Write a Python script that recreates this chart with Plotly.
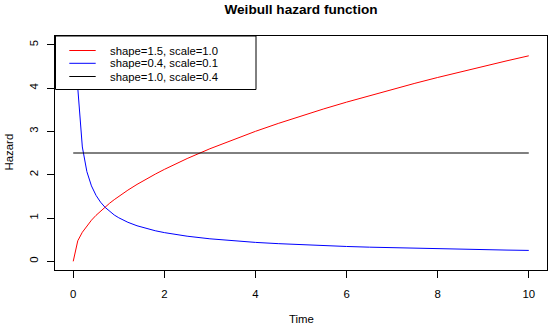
import plotly.graph_objects as go

# ---- data ----
time = [0, 0.1, 0.2, 0.3, 0.4, 0.5, 0.6, 0.7, 0.8, 0.9, 1.0, 1.2, 1.4, 1.6, 1.8,
        2.0, 2.5, 3.0, 3.5, 4.0, 4.5, 5.0, 5.5, 6.0, 6.5, 7.0, 7.5, 8.0, 8.5,
        9.0, 9.5, 10.0]
hazard_red = [0.0, 0.474, 0.671, 0.822, 0.949, 1.061, 1.162, 1.255, 1.342, 1.423,
              1.500, 1.643, 1.775, 1.897, 2.012, 2.121, 2.372, 2.598, 2.806, 3.000,
              3.182, 3.354, 3.518, 3.674, 3.824, 3.969, 4.108, 4.243, 4.373, 4.500,
              4.623, 4.743]
hazard_blue = [None, 4.000, 2.639, 2.069, 1.741, 1.523, 1.365, 1.245, 1.149, 1.070,
               1.005, 0.901, 0.821, 0.758, 0.706, 0.663, 0.580, 0.520, 0.474, 0.437,
               0.408, 0.383, 0.361, 0.343, 0.327, 0.313, 0.300, 0.289, 0.278, 0.269,
               0.260, 0.252]
time_black = [0, 10]
hazard_black = [2.5, 2.5]

series_names = ["shape=1.5, scale=1.0", "shape=0.4, scale=0.1", "shape=1.0, scale=0.4"]
series_colors = ["#ff0000", "#0000ff", "#000000"]
x_ticks = [0, 2, 4, 6, 8, 10]
y_ticks = [0, 1, 2, 3, 4, 5]

FONT = "Liberation Sans, Arial, sans-serif"

fig = go.Figure()
for xs, ys, name, col in [(time, hazard_red, series_names[0], series_colors[0]),
                          (time, hazard_blue, series_names[1], series_colors[1]),
                          (time_black, hazard_black, series_names[2], series_colors[2])]:
    fig.add_trace(go.Scatter(x=xs, y=ys, mode="lines", name=name,
                             line=dict(color=col, width=1), showlegend=False))

W, H = 550, 327
ml, mr, mt, mb = 55, 3, 36, 57
pw, ph = W - ml - mr, H - mt - mb

axis_common = dict(showline=True, mirror=True, linecolor="black", linewidth=1,
                   showgrid=False, zeroline=False, ticks="outside", ticklen=7,
                   tickcolor="black", tickwidth=1,
                   tickfont=dict(family=FONT, size=11.4, color="black"))

fig.update_layout(
    width=W, height=H,
    margin=dict(l=ml, r=mr, t=mt, b=mb),
    plot_bgcolor="white", paper_bgcolor="white",
    title=dict(text="<b>Weibull hazard function</b>", x=0.5, xref="paper",
               y=1 - 9 / H, yref="container", yanchor="middle",
               font=dict(family=FONT, size=13.6, color="black")),
    xaxis=dict(range=[-0.4, 10.4], tickvals=x_ticks, ticklabelstandoff=6, **axis_common),
    yaxis=dict(range=[-0.2, 5.2], tickvals=y_ticks, tickangle=-90, ticklabelstandoff=4,
               **axis_common),
)

# axis titles
fig.add_annotation(text="Time", xref="paper", yref="paper", x=0.5, y=(ph - (318.5 - mt)) / ph,
                   showarrow=False, xanchor="center", yanchor="middle",
                   font=dict(family=FONT, size=11.4, color="black"))
fig.add_annotation(text="Hazard", xref="paper", yref="paper", x=(8.5 - ml) / pw,
                   y=(ph - (152 - mt)) / ph,
                   textangle=-90, showarrow=False, xanchor="center", yanchor="middle",
                   font=dict(family=FONT, size=11.4, color="black"))

# legend (R style box at top-left)
fig.add_shape(type="rect", xref="paper", yref="paper", xsizemode="pixel", ysizemode="pixel",
              xanchor=0, yanchor=1, x0=0.5, x1=201, y0=0, y1=-53.5,
              line=dict(color="black", width=1), fillcolor="white", layer="above")
legend_rows = [14.5, 27.3, 40.5]
for name, col, dy in zip(series_names, series_colors, legend_rows):
    fig.add_shape(type="line", xref="paper", yref="paper", xsizemode="pixel",
                  ysizemode="pixel", xanchor=0, yanchor=1, x0=14.3, x1=40.7,
                  y0=-dy, y1=-dy, line=dict(color=col, width=1), layer="above")
    fig.add_annotation(text=name, xref="paper", yref="paper", x=53 / pw, y=1 - dy / ph,
                       showarrow=False, xanchor="left", yanchor="middle",
                       font=dict(family=FONT, size=11.3, color="black"))

fig.write_html("out.html", config={"displayModeBar": False},
               post_script="document.body.style.margin='0px';")
